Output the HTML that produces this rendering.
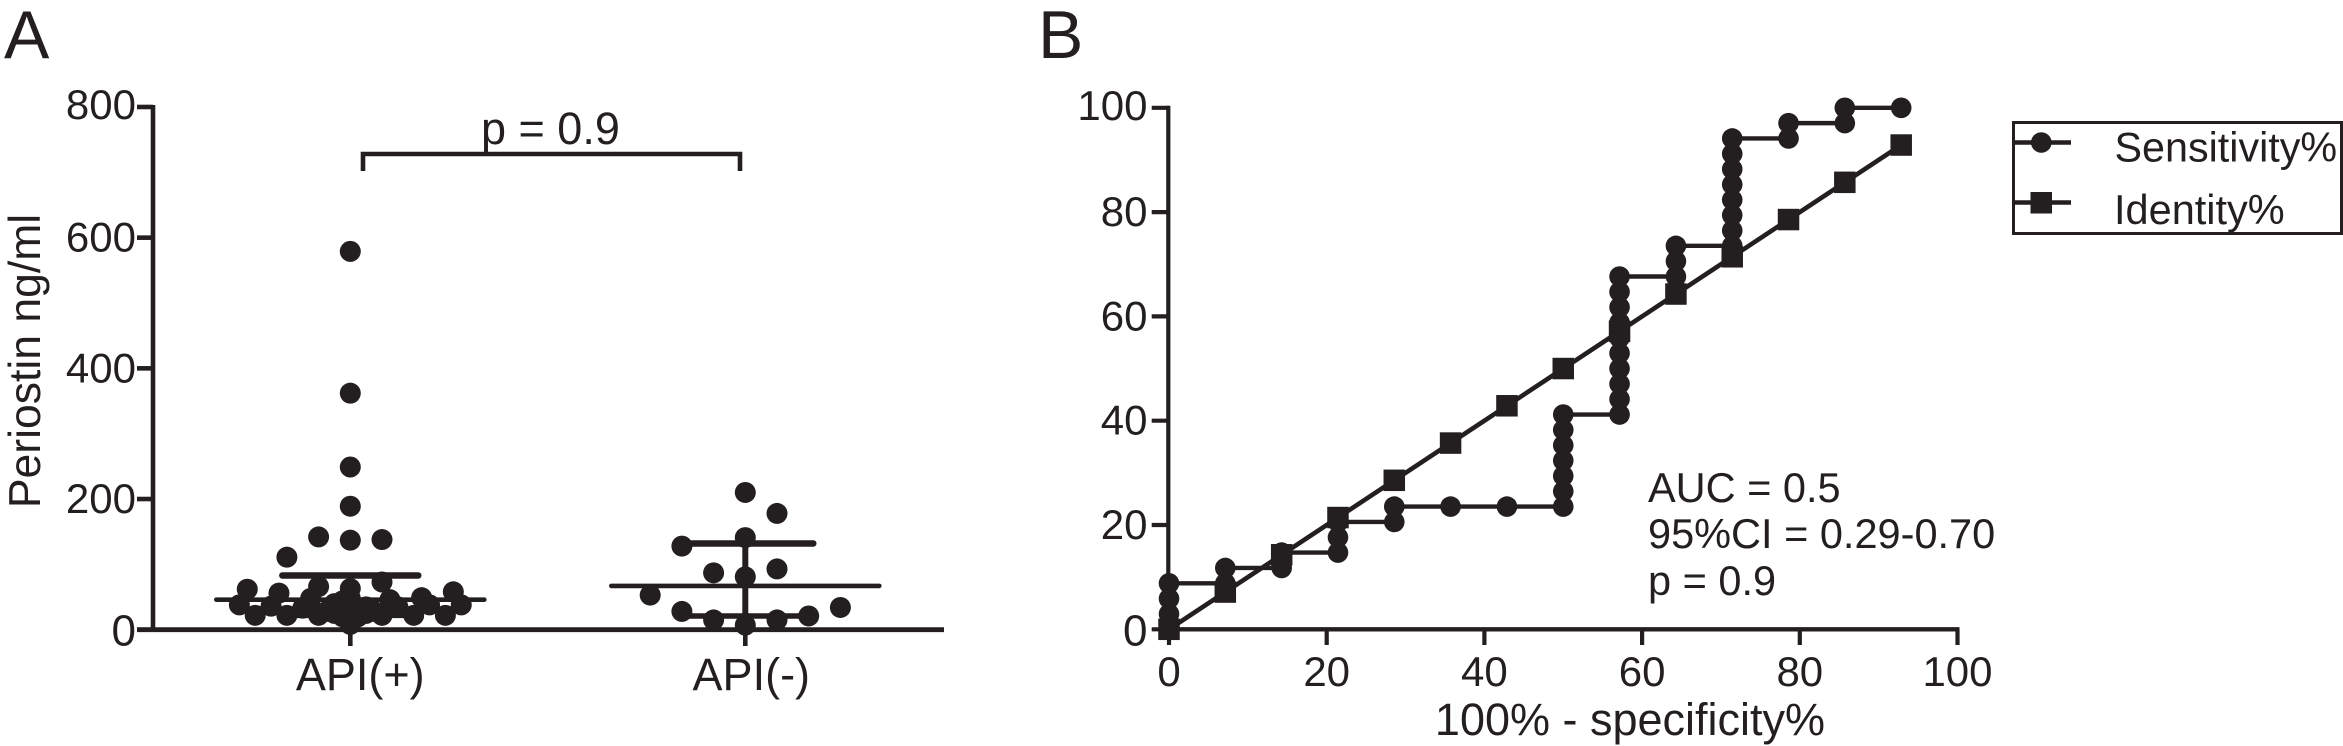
<!DOCTYPE html>
<html lang="en">
<head>
<meta charset="utf-8">
<title>Periostin levels and ROC curve</title>
<style>
html,body{margin:0;padding:0;background:#fff;width:2343px;height:746px;overflow:hidden}
svg{display:block}
text{font-family:"Liberation Sans",sans-serif;fill:#231f20}
</style>
</head>
<body>
<svg id="fig" xmlns="http://www.w3.org/2000/svg" width="2343" height="746" viewBox="0 0 2343 746">
  <rect width="2343" height="746" fill="#fff"/>
  <text x="4" y="58" font-size="68">A</text>
  <text x="1038" y="58" font-size="68">B</text>
  <text transform="translate(40,361) rotate(-90)" text-anchor="middle" font-size="44.5">Periostin ng/ml</text>
  <text x="1630" y="735" text-anchor="middle" font-size="45">100% - specificity%</text>
  <g>
    <path d="M363 171V154H740V171" fill="none" stroke="#231f20" stroke-width="4.6"/>
    <text x="481" y="144" font-size="45">p = 0.9</text>
  </g>
  <g>
    <text x="1648" y="502" font-size="41.5">AUC = 0.5</text>
    <text x="1648" y="548" font-size="41.5">95%CI = 0.29-0.70</text>
    <text x="1648" y="595" font-size="41.5">p = 0.9</text>
  </g>
  <g>
    <rect x="2013.5" y="122.5" width="328" height="111" fill="none" stroke="#231f20" stroke-width="3"/>
    <g>
      <line x1="2012" y1="142.5" x2="2071" y2="142.5" stroke="#231f20" stroke-width="4.6"/>
      <circle cx="2041.3" cy="142.5" r="10.3" fill="#231f20"/>
      <text x="2114.5" y="161.5" font-size="41.3">Sensitivity%</text>
    </g>
    <g>
      <line x1="2012" y1="202.5" x2="2071" y2="202.5" stroke="#231f20" stroke-width="4.6"/>
      <rect x="2030.5" y="192" width="21.5" height="21.5" fill="#231f20"/>
      <text x="2114" y="224" font-size="41.5">Identity%</text>
    </g>
  </g>
  <g id="panelA"></g>
  <g id="panelB"></g>
</svg>
<script>
// Panel A data
const groupLabels = ['API(+)', 'API(-)'];
const yTicksA = [0, 200, 400, 600, 800];
const apiPlusValues = [579,362,249,189,142,137,138,111,62,56,66,63,73,49,58,48,46,38,36,33,40,35,35,38,38,22,22,22,20,22,22,22,48,40,32,26,12,8,44,30,25,25,20,20,28,28];
const apiPlusSwarm = [0,0,0,0,-1,0,1,-2,-3.25,-2.25,-1,0,1,2.25,3.25,-1.25,1.25,-3.5,-2.5,-1.5,-0.5,0.5,1.5,2.5,3.5,-3,-2,-1,0,1,2,3,0,0,0,0,0,0,-0.25,0.25,-0.5,0.5,-0.25,0.25,-0.75,0.75];
const apiMinusValues = [210,178,141,128,87,81,93,53,28,15,7,15,21,34];
const apiMinusSwarm = [0,1,0,-2,-1,0,1,-3,-2,-1,0,1,2,3];
const groupMedians = [46, 67];
const groupLowerQuartiles = [22, 21];
const groupUpperQuartiles = [83, 132];

// Panel B data
const xTicksB = [0, 20, 40, 60, 80, 100];
const yTicksB = [0, 20, 40, 60, 80, 100];
const sensitivityX = [0,0,0,0,7.14,7.14,14.29,14.29,21.43,21.43,21.43,28.57,28.57,35.71,42.86,50,50,50,50,50,50,50,57.14,57.14,57.14,57.14,57.14,57.14,57.14,57.14,57.14,57.14,64.29,64.29,64.29,71.43,71.43,71.43,71.43,71.43,71.43,71.43,71.43,78.57,78.57,85.71,85.71,92.86];
const sensitivityY = [0,2.94,5.88,8.82,8.82,11.76,11.76,14.71,14.71,17.65,20.59,20.59,23.53,23.53,23.53,23.53,26.47,29.41,32.35,35.29,38.24,41.18,41.18,44.12,47.06,50,52.94,55.88,58.82,61.76,64.71,67.65,67.65,70.59,73.53,73.53,76.47,79.41,82.35,85.29,88.24,91.18,94.12,94.12,97.06,97.06,100,100];
const identityX = [0,7.14,14.29,21.43,28.57,35.71,42.86,50,57.14,64.29,71.43,78.57,85.71,92.86];
const identityY = [0,7.14,14.29,21.43,28.57,35.71,42.86,50,57.14,64.29,71.43,78.57,85.71,92.86];

const INK = '#231f20';
const NS = 'http://www.w3.org/2000/svg';

function shape(parent, tag, attrs) {
  const el = document.createElementNS(NS, tag);
  for (const k in attrs) el.setAttribute(k, attrs[k]);
  parent.appendChild(el);
  return el;
}
function seg(parent, x1, y1, x2, y2, w, name) {
  const el = shape(parent, 'line', {x1: x1, y1: y1, x2: x2, y2: y2, stroke: INK, 'stroke-width': w});
  
  
  return el;
}
function dot(parent, cx, cy, r, name) {
  const el = shape(parent, 'circle', {cx: cx, cy: cy, r: r, fill: INK});
  
  
  return el;
}
function square(parent, cx, cy, s, name) {
  const el = shape(parent, 'rect', {x: cx - s / 2, y: cy - s / 2, width: s, height: s, fill: INK});
  
  
  return el;
}
function label(parent, x, y, str, size, anchor, name) {
  const el = shape(parent, 'text', {x: x, y: y, 'font-size': size, 'text-anchor': anchor});
  el.textContent = str;
  
  
  return el;
}
function tickBaseline(v) { return v === 0 ? 16 : (v >= 800 || v === 100 ? 12 : 14); }

// Panel A axes
const gA = document.getElementById('panelA');
const yA = v => 629.7 - v * 0.6534;
const groupCenters = [350.3, 745.3];
const groupLabelShift = [10, 6];
const SLOT = 31.7;
seg(gA, 153, yA(800) - 2, 153, 632, 4.6, 'y-axis-line-a');
seg(gA, 137, 629.7, 944, 629.7, 4.8, 'x-axis-line-a');
yTicksA.forEach(v => {
  seg(gA, 137, yA(v), 153, yA(v), 4.6, 'y-tick-a-' + v);
  label(gA, 136, yA(v) + tickBaseline(v), String(v), v === 0 ? 44 : 42, 'end', 'y-tick-label-a-' + v);
});
groupLabels.forEach((g, i) => {
  seg(gA, groupCenters[i], 629.7, groupCenters[i], 646, 4.6, 'x-tick-a-' + i);
  label(gA, groupCenters[i] + groupLabelShift[i], 690, g, 45, 'middle', 'x-tick-label-a-' + i);
});
// Panel A dots
apiPlusValues.forEach((v, i) => {
  dot(gA, groupCenters[0] + apiPlusSwarm[i] * SLOT, yA(v), 10.5, 'api-plus-point');
});
apiMinusValues.forEach((v, i) => {
  dot(gA, groupCenters[1] + apiMinusSwarm[i] * SLOT, yA(v), 10.5, 'api-minus-point');
});
// Panel A summary lines
groupLabels.forEach((g, i) => {
  const c = groupCenters[i];
  seg(gA, c, yA(groupUpperQuartiles[i]), c, yA(groupLowerQuartiles[i]), 6, 'error-bar-' + i).setAttribute('stroke-linecap', 'round');
  seg(gA, c - 134, yA(groupMedians[i]), c + 134, yA(groupMedians[i]), 4.6, 'median-line-' + i).setAttribute('stroke-linecap', 'round');
  seg(gA, c - 68, yA(groupUpperQuartiles[i]), c + 68, yA(groupUpperQuartiles[i]), 6.5, 'upper-cap-' + i).setAttribute('stroke-linecap', 'round');
  seg(gA, c - 68, yA(groupLowerQuartiles[i]), c + 68, yA(groupLowerQuartiles[i]), 5.5, 'lower-cap-' + i).setAttribute('stroke-linecap', 'round');
});

// Panel B axes
const gB = document.getElementById('panelB');
const xB = v => 1169 + v * 7.885;
const yB = v => 629.3 - v * 5.215;
seg(gB, xB(0) - 0.7, yB(100) - 2, xB(0) - 0.7, 632, 4.2, 'y-axis-line-b');
seg(gB, xB(0) - 2, 629.3, xB(100) + 2, 629.3, 4.4, 'x-axis-line-b');
yTicksB.forEach(v => {
  seg(gB, 1151.7, yB(v), xB(0), yB(v), 4.2, 'y-tick-b-' + v);
  label(gB, 1147.5, yB(v) + tickBaseline(v), String(v), v === 0 ? 44 : 42, 'end', 'y-tick-label-b-' + v);
});
xTicksB.forEach(v => {
  seg(gB, xB(v), 629.3, xB(v), 645, 4.2, 'x-tick-b-' + v);
  label(gB, xB(v), 686, String(v), 42, 'middle', 'x-tick-label-b-' + v);
});
// Panel B series
const sensLine = shape(gB, 'polyline', {
  points: sensitivityX.map((x, i) => xB(x) + ',' + yB(sensitivityY[i])).join(' '),
  fill: 'none', stroke: INK, 'stroke-width': 4.4
});


sensitivityX.forEach((x, i) => {
  dot(gB, xB(x), yB(sensitivityY[i]), 10.3, 'sensitivity-point');
});
const idLine = shape(gB, 'polyline', {
  points: identityX.map((x, i) => xB(x) + ',' + yB(identityY[i])).join(' '),
  fill: 'none', stroke: INK, 'stroke-width': 4.6
});


identityX.forEach((x, i) => {
  square(gB, xB(x), yB(identityY[i]), 21.5, 'identity-point');
});
</script>
</body>
</html>
